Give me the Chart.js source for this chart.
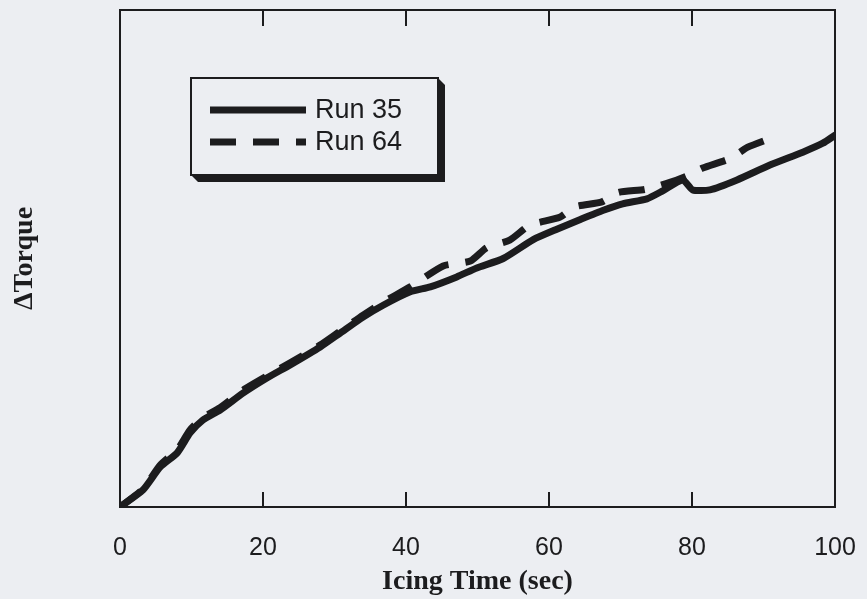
<!DOCTYPE html>
<html>
<head>
<meta charset="utf-8">
<script src="https://cdn.jsdelivr.net/npm/chart.js@4.4.0/dist/chart.umd.min.js"></script>
<style>
  html, body { margin: 0; padding: 0; background: #eceef2; }
  #wrap { width: 867px; height: 599px; }
</style>
</head>
<body>
<div id="wrap"><canvas id="chart" width="867" height="599"></canvas></div>
<script>
// Icing time (sec) and ΔTorque (arbitrary units, 0-100 of the plot height)
const time35 = [0, 3.2, 5.6, 8.0, 9.8, 11.6, 14.0, 17.2, 20.6, 23.8, 28.0, 30.8, 34.0, 36.8, 40.6, 43.4, 47.1, 49.9, 53.6, 57.8, 61.1, 64.3, 67.6, 70.3, 73.7, 75.9, 78.7, 80.1, 82.5, 86.3, 90.9, 95.5, 98.3, 100];
const torque35 = [0, 3.4, 8.0, 10.9, 14.9, 17.5, 19.5, 22.9, 26.0, 28.6, 32.2, 35.0, 38.2, 40.6, 43.3, 44.3, 46.3, 48.1, 50.0, 53.8, 55.9, 57.8, 59.7, 61.0, 62.0, 63.6, 65.8, 63.8, 63.8, 65.8, 68.8, 71.4, 73.2, 74.8];

const time64 = [0, 3.2, 5.6, 8.0, 9.8, 11.6, 14.0, 17.2, 20.6, 23.8, 28.0, 30.8, 34.0, 36.8, 40.6, 45.2, 49.0, 51.3, 54.5, 57.3, 61.5, 63.6, 67.4, 69.7, 73.4, 76.9, 79.3, 81.5, 85.3, 87.8, 91.6];
const torque64 = [0, 3.6, 8.4, 11.5, 15.5, 18.0, 20.0, 23.5, 26.4, 29.0, 32.6, 35.4, 38.6, 41.2, 44.3, 48.5, 49.5, 52.2, 53.7, 56.7, 58.3, 60.4, 61.4, 63.3, 63.9, 65.3, 66.6, 68.2, 70.1, 72.4, 74.5];

const xTicks = [0, 20, 40, 60, 80, 100];
const seriesNames = ['Run 35', 'Run 64'];

const ink = '#1c1c1e';
const paper = '#eceef2';

const toPoints = (xs, ys) => xs.map((x, i) => ({ x: x, y: ys[i] }));

// Rahmen oben/rechts und nach innen zeigende Teilstriche
const frameAndTicks = {
  id: 'frameAndTicks',
  afterDraw(chart) {
    const { ctx, chartArea: a, scales: { x } } = chart;
    ctx.save();
    ctx.strokeStyle = ink;
    ctx.lineWidth = 2;
    ctx.beginPath();
    ctx.moveTo(a.left, a.top);
    ctx.lineTo(a.right, a.top);
    ctx.lineTo(a.right, a.bottom);
    x.ticks.forEach(t => {
      if (t.value <= x.min || t.value >= x.max) return;
      const px = x.getPixelForValue(t.value);
      ctx.moveTo(px, a.bottom);
      ctx.lineTo(px, a.bottom - 15);
      ctx.moveTo(px, a.top);
      ctx.lineTo(px, a.top + 16);
    });
    ctx.stroke();
    ctx.restore();
  }
};

// Legende als Kasten mit Schatten
const boxLegend = {
  id: 'boxLegend',
  afterDraw(chart) {
    const { ctx, chartArea: a } = chart;
    const bx = a.left + 71, by = a.top + 68, bw = 247, bh = 97, sh = 7;
    ctx.save();
    ctx.fillStyle = ink;
    ctx.beginPath();
    ctx.moveTo(bx, by + bh);
    ctx.lineTo(bx + sh, by + bh + sh);
    ctx.lineTo(bx + bw + sh, by + bh + sh);
    ctx.lineTo(bx + bw + sh, by + sh);
    ctx.lineTo(bx + bw, by);
    ctx.closePath();
    ctx.fill();
    ctx.fillStyle = paper;
    ctx.fillRect(bx, by, bw, bh);
    ctx.strokeStyle = ink;
    ctx.lineWidth = 2;
    ctx.strokeRect(bx, by, bw, bh);

    chart.data.datasets.forEach((ds, i) => {
      const y = by + 32 + i * 32;
      ctx.lineWidth = 7;
      ctx.setLineDash(ds.borderDash || []);
      ctx.beginPath();
      ctx.moveTo(bx + 19, y);
      ctx.lineTo(bx + 115, y);
      ctx.stroke();
      ctx.setLineDash([]);
      ctx.fillStyle = ink;
      ctx.font = '27px "Liberation Sans", Arial, sans-serif';
      ctx.textBaseline = 'middle';
      ctx.fillText(ds.label, bx + 124, y + 1);
    });
    ctx.restore();
  }
};

const ctx = document.getElementById('chart');

new Chart(ctx, {
  type: 'line',
  data: {
    datasets: [
      {
        label: seriesNames[0],
        data: toPoints(time35, torque35),
        borderColor: ink,
        borderWidth: 7,
        borderCapStyle: 'round',
        borderJoinStyle: 'round',
        pointRadius: 0,
        tension: 0.2
      },
      {
        label: seriesNames[1],
        data: toPoints(time64, torque64),
        borderColor: ink,
        borderWidth: 7,
        borderDash: [26, 17],
        pointRadius: 0,
        tension: 0.2
      }
    ]
  },
  options: {
    responsive: false,
    animation: false,
    layout: { padding: { top: 10, right: 32, left: 0, bottom: 0 } },
    plugins: {
      legend: { display: false },
      tooltip: { enabled: false }
    },
    scales: {
      x: {
        type: 'linear',
        min: 0,
        max: 100,
        afterBuildTicks: scale => { scale.ticks = xTicks.map(v => ({ value: v })); },
        afterFit: scale => {
          scale.height = 92;
          scale.paddingLeft = 0;
          scale.paddingRight = 0;
        },
        grid: { display: false, drawTicks: false },
        border: { display: true, color: ink, width: 2 },
        ticks: {
          color: ink,
          padding: 26,
          maxRotation: 0,
          font: { family: '"Liberation Sans", Arial, sans-serif', size: 25 }
        },
        title: {
          display: true,
          text: 'Icing Time (sec)',
          color: ink,
          padding: { top: -2, bottom: 0 },
          font: { family: '"Liberation Serif", "Times New Roman", serif', size: 28, weight: 'bold' }
        }
      },
      y: {
        min: 0,
        max: 100,
        afterFit: scale => { scale.width = 120; },
        grid: { display: false, drawTicks: false },
        border: { display: true, color: ink, width: 2 },
        ticks: { display: false },
        title: {
          display: true,
          text: 'ΔTorque',
          color: ink,
          padding: { top: 8, bottom: 0 },
          font: { family: '"Liberation Serif", "Times New Roman", serif', size: 28, weight: 'bold' }
        }
      }
    }
  },
  plugins: [frameAndTicks, boxLegend]
});
</script>
</body>
</html>
